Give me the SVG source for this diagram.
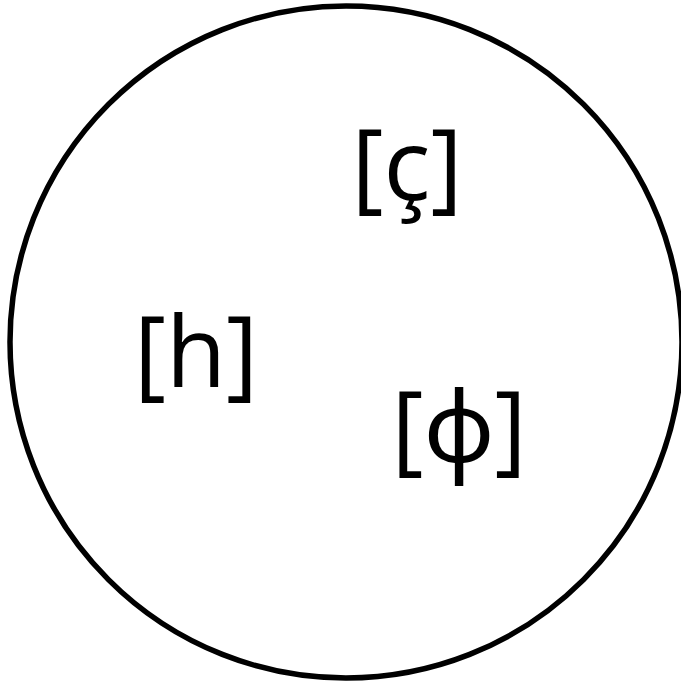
<svg xmlns="http://www.w3.org/2000/svg" width="681" height="682" viewBox="0 0 681 682">
<style>
.lbl{font-family:"Open Sans","Noto Sans","DejaVu Sans",sans-serif;font-size:98px;fill:#000;text-anchor:middle}
</style>
<rect width="681" height="682" fill="#fff"/>
<g id="circle"><circle cx="346" cy="342" r="336" fill="#fff" stroke="#000" stroke-width="5.5"/></g>
<g id="c-cedilla"><text class="lbl" x="407" y="200">[ç]</text></g>
<g id="h"><text class="lbl" x="196" y="387">[h]</text></g>
<g id="phi"><text class="lbl" x="459" y="462">[ϕ]</text></g>
</svg>
